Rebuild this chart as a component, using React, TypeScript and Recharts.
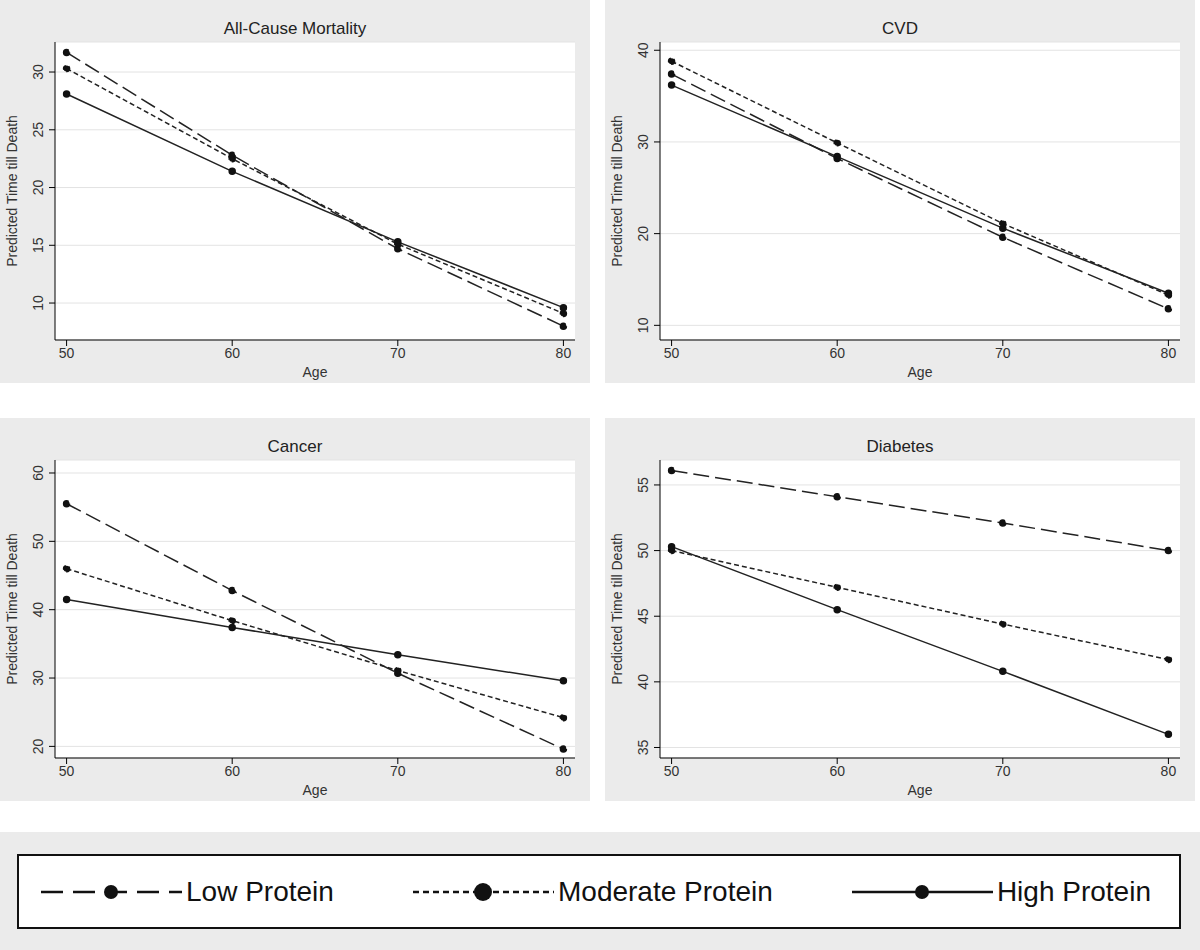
import { CartesianGrid, Line, LineChart, XAxis, YAxis, Label } from 'recharts'

const ages = [50, 60, 70, 80]

const mortLow = [31.7, 22.8, 14.7, 8.0]
const mortMod = [30.3, 22.5, 15.1, 9.1]
const mortHigh = [28.1, 21.4, 15.3, 9.6]

const cvdLow = [37.4, 28.2, 19.6, 11.8]
const cvdMod = [38.8, 29.9, 21.1, 13.3]
const cvdHigh = [36.2, 28.4, 20.6, 13.5]

const cancerLow = [55.5, 42.8, 30.7, 19.6]
const cancerMod = [46.0, 38.4, 31.1, 24.2]
const cancerHigh = [41.5, 37.4, 33.4, 29.6]

const diabLow = [56.1, 54.1, 52.1, 50.0]
const diabMod = [50.0, 47.2, 44.4, 41.7]
const diabHigh = [50.3, 45.5, 40.8, 36.0]

const font = '"Liberation Sans", Arial, sans-serif'

function RotTick(props: any) {
  const { x, y, payload } = props
  return (
    <text x={x - 4} y={y} transform={`rotate(-90 ${x - 4} ${y})`} textAnchor="middle" fontSize={14} fill="#333" fontFamily={font}>
      {payload.value}
    </text>
  )
}

type PanelProps = {
  title: string
  low: number[]
  mod: number[]
  high: number[]
  domain: [number, number]
  ticks: number[]
  left: number
  top: number
}

function Panel({ title, low, mod, high, domain, ticks, left, top }: PanelProps) {
  const data = ages.map((age, i) => ({ age, low: low[i], mod: mod[i], high: high[i] }))
  return (
    <div style={{ position: 'absolute', left, top, width: 590, height: 383, background: '#ebebeb' }}>
      <div style={{ position: 'absolute', top: 19, width: '100%', textAlign: 'center', fontSize: 17, fontFamily: font, color: '#222' }}>{title}</div>
      <LineChart width={590} height={383} data={data} margin={{ top: 42, right: 15, left: 12, bottom: 0 }}>
        <CartesianGrid vertical={false} stroke="#e3e3e3" fill="#fff" />
        <XAxis dataKey="age" type="number" domain={[49.3, 80.7]} ticks={ages} stroke="#000" tick={{ fontSize: 14, fill: '#333', fontFamily: font }} height={43}>
          <Label value="Age" position="insideBottom" offset={6} style={{ fontSize: 14, fill: '#333', fontFamily: font }} />
        </XAxis>
        <YAxis type="number" domain={domain} allowDataOverflow ticks={ticks} stroke="#000" tick={<RotTick />} width={43}>
          <Label value="Predicted Time till Death" angle={-90} position="insideLeft" offset={0} style={{ fontSize: 14, fill: '#333', fontFamily: font, textAnchor: 'middle' }} />
        </YAxis>
        <Line dataKey="low" stroke="#222" strokeWidth={1.5} strokeDasharray="16 6" dot={{ r: 3, fill: '#111', stroke: '#111' }} isAnimationActive={false} />
        <Line dataKey="mod" stroke="#222" strokeWidth={1.5} strokeDasharray="5 3" dot={{ r: 3, fill: '#111', stroke: '#111' }} isAnimationActive={false} />
        <Line dataKey="high" stroke="#222" strokeWidth={1.5} dot={{ r: 3, fill: '#111', stroke: '#111' }} isAnimationActive={false} />
      </LineChart>
    </div>
  )
}

function LegendItem({ dash, label, big }: { dash?: string; label: string; big?: boolean }) {
  return (
    <div style={{ display: 'flex', alignItems: 'center' }}>
      <svg width={145} height={30}>
        <line x1={2} y1={15} x2={143} y2={15} stroke="#111" strokeWidth={2.5} strokeDasharray={dash} />
        <circle cx={72} cy={15} r={big ? 9 : 7} fill="#111" />
      </svg>
      <span style={{ fontSize: 28, fontFamily: font, color: '#111', marginLeft: 2 }}>{label}</span>
    </div>
  )
}

export default function App() {
  return (
    <div style={{ position: 'absolute', left: 0, top: 0, width: 1200, height: 950, background: '#fff' }}>
      <Panel title="All-Cause Mortality" low={mortLow} mod={mortMod} high={mortHigh} domain={[6.8, 32.6]} ticks={[10, 15, 20, 25, 30]} left={0} top={0} />
      <Panel title="CVD" low={cvdLow} mod={cvdMod} high={cvdHigh} domain={[8.4, 40.9]} ticks={[10, 20, 30, 40]} left={605} top={0} />
      <Panel title="Cancer" low={cancerLow} mod={cancerMod} high={cancerHigh} domain={[18.3, 61.9]} ticks={[20, 30, 40, 50, 60]} left={0} top={418} />
      <Panel title="Diabetes" low={diabLow} mod={diabMod} high={diabHigh} domain={[34.2, 56.9]} ticks={[35, 40, 45, 50, 55]} left={605} top={418} />
      <div style={{ position: 'absolute', left: 0, top: 832, width: 1200, height: 118, background: '#ebebeb' }}>
        <div style={{ position: 'absolute', left: 17, top: 22, width: 1164, height: 75, background: '#fff', border: '2px solid #111', display: 'flex', alignItems: 'center', justifyContent: 'space-between', padding: '0 28px 0 20px', boxSizing: 'border-box' }}>
          <LegendItem dash="22 10" label="Low Protein" />
          <LegendItem dash="6 4" label="Moderate Protein" big />
          <LegendItem label="High Protein" />
        </div>
      </div>
    </div>
  )
}
